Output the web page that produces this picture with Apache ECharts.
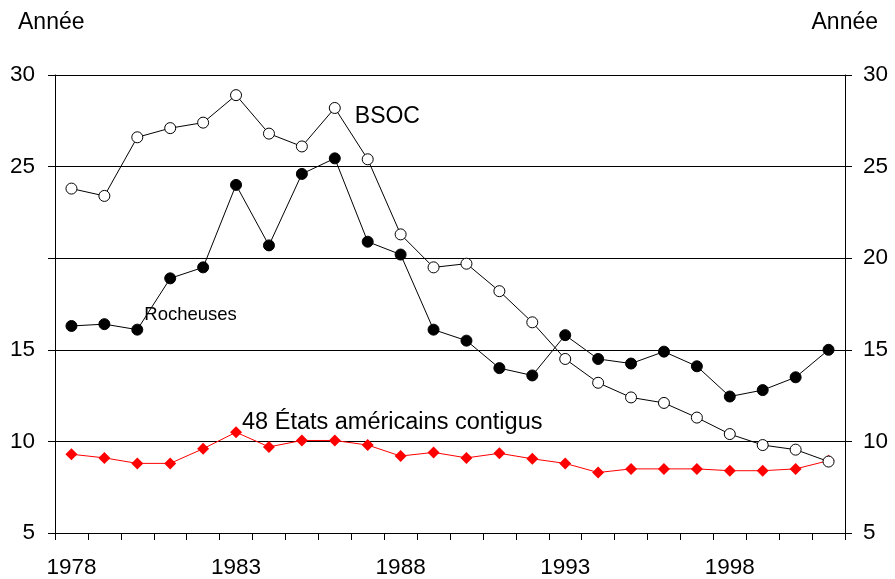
<!DOCTYPE html>
<html>
<head>
<meta charset="utf-8">
<script src="https://cdn.jsdelivr.net/npm/echarts@6/dist/echarts.min.js"></script>
<style>
  html, body { margin: 0; padding: 0; background: #fff; }
  #chart { width: 895px; height: 579px; }
</style>
</head>
<body>
<div id="chart"></div>
<script>
// Years on the horizontal axis
const years = ['1978','1979','1980','1981','1982','1983','1984','1985','1986','1987','1988','1989',
               '1990','1991','1992','1993','1994','1995','1996','1997','1998','1999','2000','2001'];

// BSOC (open circles)
const bsoc = [23.8, 23.4, 26.6, 27.1, 27.4, 28.9, 26.8, 26.1, 28.2, 25.4, 21.3, 19.5,
              19.7, 18.2, 16.5, 14.5, 13.2, 12.4, 12.1, 11.3, 10.4, 9.8, 9.55, 8.9];

// Rocheuses (filled circles)
const rocheuses = [16.3, 16.4, 16.1, 18.9, 19.5, 24.0, 20.7, 24.6, 25.45, 20.9, 20.2, 16.1,
                   15.5, 14.0, 13.6, 15.8, 14.5, 14.25, 14.9, 14.1, 12.45, 12.8, 13.5, 15.0];

// 48 États américains contigus (red diamonds)
const contigus = [9.3, 9.1, 8.8, 8.8, 9.6, 10.5, 9.7, 10.05, 10.05, 9.8, 9.2, 9.4,
                  9.1, 9.35, 9.05, 8.8, 8.3, 8.5, 8.5, 8.5, 8.4, 8.4, 8.5, 8.95];

// Tick labels shown on each vertical axis
const leftTickLabels = [5, 10, 15, 25, 30];
const rightTickLabels = [5, 10, 15, 20, 25, 30];

const FONT = 'Liberation Sans, Arial, Helvetica, sans-serif';

// Attach a series name as a text label on one of its points
function withLabel(values, idx, text, opts) {
  return values.map((v, i) => i === idx
    ? { value: v, label: Object.assign({ show: true, formatter: text, color: '#000',
        fontFamily: FONT, position: 'right', align: 'left', verticalAlign: 'middle' }, opts) }
    : v);
}

const chart = echarts.init(document.getElementById('chart'), null, { renderer: 'canvas' });

const yCommon = {
  type: 'value', min: 5, max: 30, interval: 5,
  axisLine: { show: true, lineStyle: { color: '#000', width: 1 } },
  axisTick: { show: true, inside: false, length: 7, lineStyle: { color: '#000' } },
  splitLine: { show: false }
};

chart.setOption({
  animation: false,
  backgroundColor: '#fff',
  grid: { left: 55, right: 50, top: 75, bottom: 46 },
  xAxis: {
    type: 'category', data: years, boundaryGap: true,
    axisLine: { lineStyle: { color: '#000', width: 1 } },
    axisTick: { show: true, interval: 0, length: 7, lineStyle: { color: '#000' } },
    axisLabel: { interval: 4, margin: 23, fontSize: 22.5, color: '#000', fontFamily: FONT }
  },
  yAxis: [
    Object.assign({}, yCommon, {
      position: 'left',
      splitLine: { show: true, lineStyle: { color: '#000', width: 1 } },
      axisLabel: { margin: 20, fontSize: 22.5, color: '#000', fontFamily: FONT,
        formatter: v => leftTickLabels.includes(v) ? String(v) : '' }
    }),
    Object.assign({}, yCommon, {
      position: 'right',
      axisLabel: { margin: 18, fontSize: 22.5, color: '#000', fontFamily: FONT,
        formatter: v => rightTickLabels.includes(v) ? String(v) : '' }
    })
  ],
  graphic: [
    { type: 'text', left: 18, top: 11, style: { text: 'Année', fontSize: 23, fontFamily: FONT, fill: '#000' } },
    { type: 'text', right: 17, top: 11, style: { text: 'Année', fontSize: 23, fontFamily: FONT, fill: '#000' } }
  ],
  series: [
    {
      name: '48 États américains contigus', type: 'line',
      data: withLabel(contigus, 5, '48 États américains contigus',
        { fontSize: 23.5, distance: 0, offset: [0, -10] }),
      symbol: 'diamond', symbolSize: [12, 12],
      itemStyle: { color: '#ff0000' },
      lineStyle: { color: '#ff0000', width: 1 },
      z: 2
    },
    {
      name: 'Rocheuses', type: 'line',
      data: withLabel(rocheuses, 2, 'Rocheuses',
        { fontSize: 18.5, distance: 1, offset: [0, -15] }),
      symbol: 'circle', symbolSize: 11,
      itemStyle: { color: '#000', borderColor: '#000', borderWidth: 1 },
      lineStyle: { color: '#000', width: 1 },
      z: 3
    },
    {
      name: 'BSOC', type: 'line',
      data: withLabel(bsoc, 8, 'BSOC',
        { fontSize: 23, distance: 14, offset: [0, 9] }),
      symbol: 'circle', symbolSize: 11,
      itemStyle: { color: '#fff', borderColor: '#000', borderWidth: 1 },
      lineStyle: { color: '#000', width: 1 },
      z: 4
    }
  ]
});
</script>
</body>
</html>
